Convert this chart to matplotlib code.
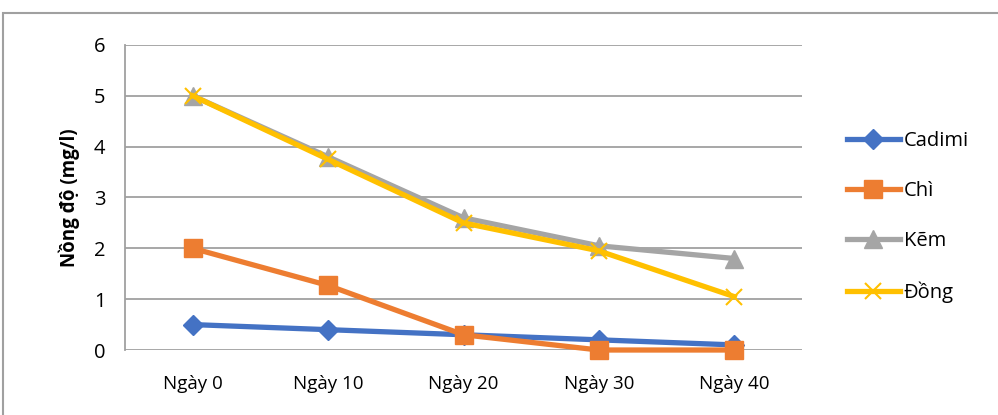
# Heavy metal concentration over time
import matplotlib.pyplot as plt
from matplotlib.patches import Rectangle

plt.rcParams['font.family'] = ['Open Sans', 'DejaVu Sans']

# Data
days = ['Ngày 0', 'Ngày 10', 'Ngày 20', 'Ngày 30', 'Ngày 40']
cadimi = [0.5, 0.4, 0.3, 0.2, 0.1]
chi = [2.0, 1.27, 0.3, 0.0, 0.0]
kem = [5.0, 3.8, 2.6, 2.05, 1.8]
dong = [5.0, 3.75, 2.5, 1.95, 1.05]

fig = plt.figure(figsize=(9.98, 4.15), dpi=100)
ax = fig.add_axes([0.1253, 0.1566, 0.6783, 0.735])

# Outer chart frame
fig.patches.append(Rectangle((3 / 998, -0.1), 1.1, (415 - 13) / 415 + 0.1,
                             transform=fig.transFigure, fill=False,
                             edgecolor='#A0A0A0', linewidth=1.5))

x = range(len(days))
ax.plot(x, cadimi, color='#4472C4', lw=3.8, marker='D', ms=10, label='Cadimi', clip_on=False)
ax.plot(x, chi, color='#ED7D31', lw=3.8, marker='s', ms=13, label='Chì', clip_on=False)
ax.plot(x, kem, color='#A5A5A5', lw=3.8, marker='^', ms=13, label='Kẽm', clip_on=False)
ax.plot(x, dong, color='#FFC000', lw=3.8, marker='x', ms=12, mew=1.5, label='Đồng', clip_on=False)

ax.set_xlim(-0.5, len(days) - 0.5)
ax.set_ylim(0, 6)
ax.set_xticks(list(x))
ax.set_xticklabels(days, fontsize=13.5)
ax.set_yticks(range(0, 7))
ax.tick_params(axis='y', labelsize=14.5, length=0, pad=14)
ax.tick_params(axis='x', length=0, pad=18)

ax.grid(axis='y', color='#A0A0A0', lw=1.3)
ax.set_axisbelow(True)
for side in ['top', 'right', 'bottom']:
    ax.spines[side].set_visible(False)
ax.spines['left'].set_color('#A0A0A0')
ax.spines['left'].set_linewidth(1.3)

ax.set_ylabel('Nồng độ (mg/l)', fontsize=13.5, fontweight='bold', labelpad=10)

ax.legend(loc='center left', bbox_to_anchor=(1.04, 0.436), frameon=False,
          fontsize=14.5, labelspacing=1.5, handlelength=2.6, handletextpad=0.2)

fig.savefig('out.png', dpi=100)
